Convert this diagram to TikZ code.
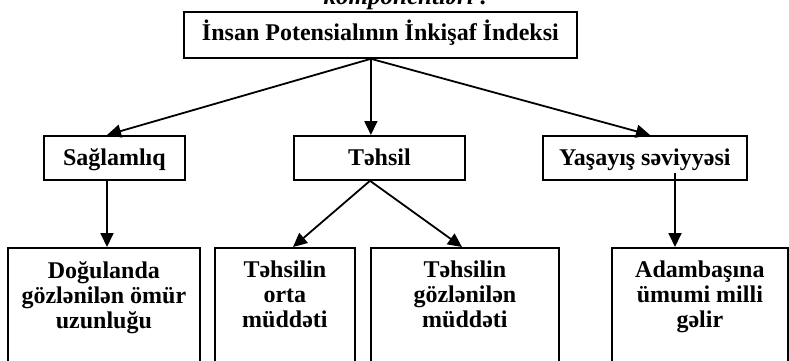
\documentclass[tikz,border=0pt]{standalone}
\usepackage{fontspec}
\setmainfont{Liberation Serif}
\usetikzlibrary{arrows.meta,calc}
\begin{document}
\begin{tikzpicture}[x=1pt,y=-1pt,
  box/.style={draw, line width=1.8pt, rectangle, anchor=north west, inner sep=0pt,
    font=\bfseries\fontsize{24}{25}\selectfont},
  topbox/.style={box, text height=17pt, text depth=5pt},
  midbox/.style={box, text height=20pt, text depth=4pt},
  btxt/.style={anchor=north, inner sep=0pt, align=center,
    font=\bfseries\fontsize{24}{25}\selectfont},
  conn/.style={line width=1.8pt, -{Triangle[length=14pt,width=13pt]}},
  plain/.style={line width=1.8pt}]
\clip (0,0) rectangle (789,360);
\node[anchor=base, inner sep=0pt, font=\bfseries\itshape\fontsize{25}{25}\selectfont] (komp) at (406,4) {komponentləri :};
\node[topbox, minimum width=393pt, minimum height=46pt] (top) at (183,11) {İnsan Potensialının İnkişaf İndeksi};
\node[midbox, minimum width=141pt, minimum height=44pt] (s1) at (43,135) {Sağlamlıq};
\node[midbox, minimum width=171pt, minimum height=44pt] (t1) at (293,135) {Təhsil};
\node[midbox, minimum width=204pt, minimum height=44pt] (y1) at (542,135) {Yaşayış səviyyəsi};
\node[box, minimum width=192pt, minimum height=140pt] (d1) at (7,247) {};
\node[box, minimum width=140pt, minimum height=140pt] (d2) at (214,247) {};
\node[box, minimum width=188pt, minimum height=140pt] (d3) at (370,247) {};
\node[box, minimum width=176pt, minimum height=140pt] (d4) at (611,247) {};
\node[btxt] (d1t) at ([yshift=-14pt]d1.north) {Doğulanda\\gözlənilən ömür\\uzunluğu};
\node[btxt] (d2t) at ([yshift=-14pt]d2.north) {Təhsilin\\orta\\müddəti};
\node[btxt] (d3t) at ([yshift=-14pt]d3.north) {Təhsilin\\gözlənilən\\müddəti};
\node[btxt] (d4t) at ([yshift=-14pt]d4.north) {Adambaşına\\ümumi milli\\gəlir};
\coordinate (hub) at ([xshift=-9.5pt]top.south);
\draw[conn] (hub) -- ([xshift=64pt]s1.north west);
\draw[conn] (hub) -- (hub |- t1.north);
\draw[conn] (hub) -- ([xshift=108pt]y1.north west);
\coordinate (sb) at ([xshift=64pt]s1.south west);
\draw[conn] (sb) -- (sb |- d1.north);
\coordinate (tb) at ([xshift=77pt]t1.south west);
\draw[conn] (tb) -- ([xshift=79pt]d2.north west);
\draw[conn] (tb) -- ([xshift=92pt]d3.north west);
\coordinate (yb) at ([xshift=133pt,yshift=8pt]y1.south west);
\draw[conn] (yb) -- (yb |- d4.north);
\end{tikzpicture}
\end{document}
